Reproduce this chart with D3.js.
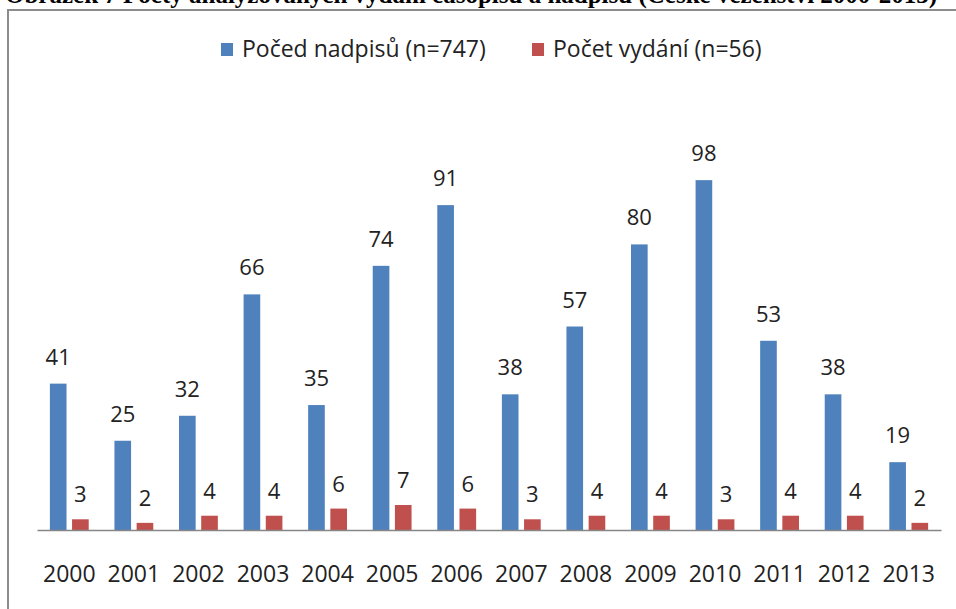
<!DOCTYPE html>
<html>
<head>
<meta charset="utf-8">
<script src="https://cdn.jsdelivr.net/npm/d3@7"></script>
<style>
  body { margin: 0; background: #fff; }
  svg { display: block; }
</style>
</head>
<body>
<div id="container"></div>
<script>
/* DATA */
const years = ["2000", "2001", "2002", "2003", "2004", "2005", "2006", "2007", "2008", "2009", "2010", "2011", "2012", "2013"];
const nadpisy = [41, 25, 32, 66, 35, 74, 91, 38, 57, 80, 98, 53, 38, 19];
const vydani = [3, 2, 4, 4, 6, 7, 6, 3, 4, 4, 3, 4, 4, 2];
const seriesNames = ["Počed nadpisů (n=747)", "Počet vydání (n=56)"];
const titleText = "Obrázek 7 Počty analyzovaných vydání časopisu a nadpisů (České vězenství 2000-2013)";

/* CONSTANTS */
const width = 956,
  height = 609,
  margin = { top: 173, bottom: 79, left: 37, right: 15 };
const colors = ["#4f81bd", "#c0504d"];
const font = "'Open Sans', 'Noto Sans', sans-serif";

const data = years.map((y, i) => ({ year: y, values: [nadpisy[i], vydani[i]] }));

/* SCALES */
const x0 = d3.scaleBand()
  .domain(years)
  .range([margin.left, width - margin.right]);

const x1 = d3.scaleBand()
  .domain([0, 1])
  .range([0, x0.bandwidth()])
  .paddingInner(0.25)
  .paddingOuter(0.58);

const yScale = d3.scaleLinear()
  .domain([0, 100])
  .range([height - margin.bottom, margin.top]);

/* HTML ELEMENTS */
const svg = d3.select("#container")
  .append("svg")
  .attr("width", width)
  .attr("height", height);

// caption above the chart, cut off by the page top as in the source
svg.append("text")
  .attr("x", 5)
  .attr("y", 3)
  .attr("font-family", "'Liberation Serif', serif")
  .attr("font-weight", "bold")
  .attr("font-size", 25)
  .attr("fill", "#000")
  .text(titleText);

// chart frame
svg.append("rect")
  .attr("x", 8)
  .attr("y", 10)
  .attr("width", 1000)
  .attr("height", 700)
  .attr("fill", "#fff")
  .attr("stroke", "#8c8c8c")
  .attr("stroke-width", 2);

// legend
const legendX = [221, 532];
const legend = svg.append("g");
seriesNames.forEach((name, i) => {
  legend.append("rect")
    .attr("x", legendX[i])
    .attr("y", 43)
    .attr("width", 12)
    .attr("height", 13)
    .attr("fill", colors[i]);
  legend.append("text")
    .attr("x", legendX[i] + 21)
    .attr("y", 57)
    .attr("font-family", font)
    .attr("font-size", 23)
    .attr("fill", "#222")
    .text(name);
});

// bars
const groups = svg.selectAll("g.year")
  .data(data)
  .join("g")
  .attr("class", "year")
  .attr("transform", d => `translate(${x0(d.year)},0)`);

groups.selectAll("rect")
  .data(d => d.values)
  .join("rect")
  .attr("x", (d, i) => x1(i))
  .attr("y", d => yScale(d))
  .attr("width", x1.bandwidth())
  .attr("height", d => yScale(0) - yScale(d))
  .attr("fill", (d, i) => colors[i]);

groups.selectAll("text")
  .data(d => d.values)
  .join("text")
  .attr("x", (d, i) => x1(i) + x1.bandwidth() / 2)
  .attr("y", (d, i) => yScale(d) - (i === 0 ? 19 : 17))
  .attr("text-anchor", "middle")
  .attr("font-family", font)
  .attr("font-size", 22)
  .attr("fill", "#222")
  .text(d => d);

// x axis
const xAxis = d3.axisBottom(x0)
  .tickSize(0);

svg.append("g")
  .attr("transform", `translate(0,${yScale(0)})`)
  .call(xAxis)
  .call(g => g.select(".domain").attr("stroke", "#868686").attr("stroke-width", 1.5))
  .call(g => g.selectAll("text")
    .attr("y", 52)
    .attr("dy", 0)
    .attr("font-family", font)
    .attr("font-size", 23)
    .attr("fill", "#222"));
</script>
</body>
</html>
